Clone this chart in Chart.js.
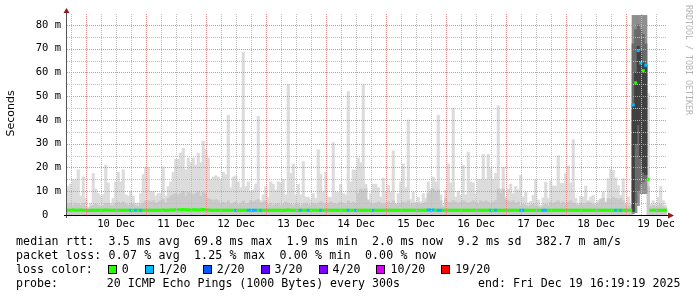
<!DOCTYPE html>
<html>
<head>
<meta charset="utf-8">
<script src="https://cdn.jsdelivr.net/npm/chart.js@4.4.1/dist/chart.umd.min.js"></script>
<style>
  html, body { margin: 0; padding: 0; background: #fff; }
  #wrap { position: relative; width: 697px; height: 297px; overflow: hidden; }
  #legend { position: absolute; left: 16px; top: 234px; font: 11.6px "DejaVu Sans Mono", monospace; line-height: 14px; white-space: pre; color: #000; }
  .wide { letter-spacing: 0.14px; }
  .sw { display: inline-block; width: 7px; height: 7px; border: 1px solid #000; vertical-align: -1px; margin-left: 1px; margin-right: 5px; }
  .item + .item { margin-left: 15px; }
  #end { position: absolute; left: 478px; top: 276px; font: 11.6px "DejaVu Sans Mono", monospace; line-height: 14px; white-space: pre; }
</style>
</head>
<body>
<div id="wrap">
  <canvas id="smoke" width="697" height="297"></canvas>
  <div id="legend"></div>
  <div id="end"></div>
</div>
<script>
// 10 days, one sample per hour, ending Fri Dec 19 16:19:19 2025
const startMs = Date.UTC(2025, 11, 9, 16, 19, 19);
const hoursShown = 240;

// top of the light smoke (slowest ping), ms
const rttMax = [
  12, 13, 15, 15, 19, 8, 16, 7, 3, 5,
  17.5, 11, 9, 8, 8.5, 21, 13.5, 5, 7, 14,
  18, 14, 19, 8.5, 8, 10, 8, 5, 5, 9,
  17, 20, 20, 10, 10, 8, 9, 9, 20, 8,
  12, 14, 18, 23.5, 23.5, 26, 28, 19, 24, 22,
  24, 21, 26, 22, 31, 27.5, 24, 15, 16, 16.5,
  16,
  15, 18, 17, 42, 11.5, 16, 16.5, 14, 11.5, 68.5,
  12, 14, 10, 10.5, 13, 41.5, 6, 8.5, 12, 7.5,
  14, 13, 10.5, 14, 13.5, 15, 8.5, 55, 17.5, 21.5,
  8.5, 13, 8.5, 22.5, 7.5, 7.5, 6.5, 9, 7, 27.5,
  17, 9.5, 18, 7.5, 7.5, 30.5, 9.5, 9.5, 13, 9,
  8.5, 52, 14, 19, 19, 24, 22, 55, 13, 6.5,
  9, 13, 13, 11.5, 7.5, 15.5, 9.5, 12.5, 9.5, 27,
  4.5, 9, 14, 21.5, 11.5, 40, 6.5, 9.5, 5.5, 7.5,
  5.5, 9, 7, 14, 11, 16, 14, 42, 8.5, 4,
  10.5, 21.5, 13.5, 45, 7.5, 10, 8.5, 21, 8.5, 26.5,
  14, 13.5, 9, 15, 15, 25.5, 15, 25.5, 19.5, 15,
  17.5, 46, 11, 20, 7.5, 11, 13, 9, 12, 10.5,
  16.7, 7.6, 9.7, 5.1, 5.7, 8.3, 14.9, 6.3, 3.9, 7.2,
  13.8, 6.9, 14.3, 12.2, 12.2, 25, 13.3, 13.2, 17.4, 20.6,
  13.5, 31.7, 7, 4.9, 7.9, 7.6, 12.2, 6.1, 7.6, 8.2,
  4.7, 6.1, 6.8, 9.7, 5.7, 15.3, 19.2, 18.8, 15.6, 12.4,
  8.3, 15.3, 4.9, 7.6, 4.9,
  null, null, null, null, null, null,
  51,
  4.5, 6, 5, 7.5, 12, 6, 4
];

// top of the denser inner smoke, ms
const rttUpper = [
  4.5, 5, 4, 5, 4.5, 4, 5, 3.5,
  3, 3.5, 4, 4.5, 4, 3.5, 4, 5,
  5, 4, 4, 5, 5.5, 5, 5.5, 4.5, 4, 5, 4.5, 4, 3.5, 4.5, 5, 6,
  6, 5.5, 6, 5, 5.5, 6, 6.5, 5,
  7, 8, 8.5, 9, 8.5,
  9, 10, 8, 9.5, 9, 8.5, 9, 10, 8, 9.5, 9,
  7, 6.5, 6, 6.5, 6,
  5, 5.5, 5, 6, 4.5, 5, 5.5, 4.5, 5, 6, 4.5, 5,
  6, 5.5, 6, 6.5, 5, 5.5, 6,
  4.5, 5, 4, 4.5, 5, 4, 4.5, 5.5, 5, 4.5, 4, 4.5, 5, 4, 4.5, 5, 4.5, 4, 5, 4.5,
  5, 5.5, 5, 4.5, 5, 5.5, 5, 4.5, 5, 5.5, 5, 4.5, 6, 5, 5.5, 5,
  9, 11, 10.5, 11, 6,
  5, 4.5, 5, 5.5, 5, 4.5, 5, 5.5, 5, 6, 4.5, 5, 5, 5.5, 5, 6, 4.5, 5, 4.5, 5, 4.5, 5, 5.5,
  9, 10, 11, 10, 10.5, 6, 3.5, 7,
  5.5, 5, 6, 5.5, 5, 5.5, 6, 5.5, 5, 5.5, 6, 5.5, 5, 6, 5.5, 6, 5.5, 5, 5.5, 6,
  11, 9, 11, 6.5,
  6, 5.5, 6, 5, 5.5,
  4, 4.5, 4, 3.5, 4, 4.5, 4, 3.5, 3, 4, 4.5, 4,
  5.5, 5, 5.5, 6,
  5, 5.5, 5, 5.5, 6, 5, 4.5, 4, 5, 4.5, 5, 5.5, 5, 4.5, 4, 5,
  6.5, 7, 5, 7, 6.5, 7.5, 7, 6.5, 7, 6, 4,
  4, 3.5,
  null, null, null, null, null, null,
  12,
  3.5, 4, 3.5, 4, 4.5, 3.5, 3
];

// median rtt, ms
const rttMedian = [
  2.0, 2.0, 2.1, 2.0, 2.0, 2.1, 2.0, 2.0, 1.9, 2.0, 2.0, 2.0, 2.0, 2.0, 2.0, 2.1, 2.0, 2.0, 2.0, 2.0,
  2.0, 2.0, 2.0, 2.0, 2.0, 2.0, 2.0, 2.0, 2.0, 2.0, 2.0, 2.0, 2.0, 2.0, 2.0, 2.0, 2.0, 2.0, 2.1, 2.0,
  2.0, 2.1, 2.1, 2.2, 2.2, 2.2, 2.3, 2.2, 2.2, 2.1, 2.2, 2.2, 2.1, 2.2, 2.3, 2.2, 2.1, 2.0, 2.0, 2.0,
  2.0, 2.0, 2.0, 2.0, 2.0, 2.0, 2.0, 2.0, 2.0, 2.0, 2.0, 2.0, 2.0, 2.0, 2.0, 2.0, 2.0, 2.0, 2.0, 2.0,
  2.0, 2.0, 2.0, 2.0, 2.0, 2.0, 2.0, 2.0, 2.1, 2.0, 2.0, 2.0, 2.0, 2.0, 2.0, 2.0, 2.0, 2.0, 2.0, 2.0,
  2.0, 2.0, 2.0, 2.0, 2.0, 2.0, 2.0, 2.0, 2.0, 2.0, 2.0, 2.0, 2.0, 2.0, 2.0, 2.0, 2.0, 2.0, 2.0, 2.0,
  2.0, 2.0, 2.0, 2.0, 2.0, 2.0, 2.0, 2.0, 2.0, 2.0, 2.0, 2.0, 2.0, 2.0, 2.0, 2.0, 2.0, 2.0, 2.0, 2.0,
  2.0, 2.0, 2.0, 2.0, 2.1, 2.1, 2.1, 2.0, 2.0, 2.0, 2.0, 2.0, 2.0, 2.0, 2.0, 2.0, 2.0, 2.0, 2.0, 2.0,
  2.0, 2.0, 2.0, 2.0, 2.0, 2.0, 2.0, 2.0, 2.0, 2.0, 2.0, 2.0, 2.0, 2.0, 2.0, 2.0, 2.0, 2.0, 2.0, 2.0,
  2.0, 2.0, 2.0, 2.0, 2.0, 2.0, 2.0, 2.0, 2.0, 2.0, 2.0, 2.0, 2.0, 2.0, 2.0, 2.0, 2.0, 2.0, 2.0, 2.0,
  2.0, 2.0, 2.0, 2.0, 2.0, 2.0, 2.0, 2.0, 2.0, 2.0, 2.0, 2.0, 2.0, 2.0, 2.0, 2.0, 2.0, 2.0, 2.0, 2.0,
  2.0, 2.0, 2.0, 2.0, 2.0, 2.0, 46.3, 55.6, 69.2, 64.0, 60.7, 63.0, 15.0, 2.0, 2.0, 2.0, 2.0, 2.0, 2.0, 2.0
];

// lost pings out of 20, per sample
const lossPings = [
  0, 0, 0, 0, 0, 0, 0, 0, 0, 0, 0, 0, 0, 0, 0, 0, 0, 0, 0, 0,
  0, 0, 0, 0, 0, 1, 0, 1, 0, 1, 0, 0, 0, 0, 0, 0, 0, 0, 0, 0,
  0, 0, 0, 0, 0, 0, 0, 0, 0, 0, 0, 0, 0, 0, 0, 0, 0, 0, 0, 0,
  0, 0, 0, 0, 0, 0, 0, 1, 0, 0, 0, 0, 1, 1, 1, 1, 0, 1, 0, 0,
  0, 0, 0, 0, 0, 0, 0, 0, 0, 0, 0, 0, 0, 1, 0, 0, 1, 0, 0, 0,
  0, 1, 0, 0, 0, 0, 0, 0, 0, 0, 0, 0, 1, 0, 0, 1, 0, 0, 0, 0,
  0, 0, 1, 0, 0, 0, 0, 0, 0, 0, 0, 0, 0, 0, 0, 0, 0, 0, 0, 0,
  0, 0, 0, 0, 1, 1, 1, 0, 1, 1, 0, 0, 0, 0, 0, 0, 0, 0, 0, 0,
  0, 0, 0, 0, 0, 0, 0, 0, 0, 1, 0, 1, 0, 0, 0, 0, 0, 0, 0, 0,
  0, 1, 1, 0, 0, 0, 0, 0, 0, 0, 1, 1, 0, 0, 0, 0, 0, 0, 0, 0,
  0, 0, 0, 0, 0, 0, 0, 0, 0, 0, 0, 0, 0, 0, 0, 0, 0, 0, 0, 1,
  0, 1, 0, 0, 0, 0, 1, 0, 1, 1, 0, 1, 0, 0, 0, 0, 0, 0, 0, 0
];

// the latency burst on 19 Dec: wide, dark smoke
const burstHours = [226, 227, 228, 229, 230, 231];
const burstOuterLo = [0.5, 1, 4, 9, 9, 9];
const burstOuterHi = [84, 84, 84, 84, 84, 84];
const burstMidLo = [2, 5, 10, 13, 14, 15];
const burstMidHi = [72, 78, 80, 78, 76, 72];
const burstCoreLo = [1.5, 30, 38, 24, 18, 17];
const burstCoreHi = [46.5, 60, 71, 69, 64, 63];

const lossSteps = [0, 1, 2, 3, 4, 10, 19];
const lossLabels = ['0', '1/20', '2/20', '3/20', '4/20', '10/20', '19/20'];
const lossColors = ['#26ff00', '#00b8ff', '#0059ff', '#5e00ff', '#7e00ff', '#dd00ff', '#ff0000'];

const statLines = [
  'median rtt:  3.5 ms avg  69.8 ms max  1.9 ms min  2.0 ms now  9.2 ms sd  382.7 m am/s',
  'packet loss: 0.07 % avg  1.25 % max  0.00 % min  0.00 % now'
];
const probeText = 'probe:       20 ICMP Echo Pings (1000 Bytes) every 300s';
const endText = 'end: Fri Dec 19 16:19:19 2025';

// legend below the graph
const legendEl = document.getElementById('legend');
const lossItems = lossLabels.map((l, i) =>
  `<span class="item"><span class="sw" style="background:${lossColors[i]}"></span>${l}</span>`).join('');
legendEl.innerHTML = statLines.map(s => `<span class="wide">${s}</span>`).join('\n') +
  '\nloss color:  ' + lossItems + '\n' + probeText;
document.getElementById('end').textContent = endText;

// axis ticks: every 6 h, midnight major, day label at noon
const hourMs = 3600 * 1000;
const firstTickMs = Date.UTC(2025, 11, 9, 18, 0, 0);
const firstTick = (firstTickMs - startMs) / hourMs;
const xTicks = [];
for (let t = firstTick; t < hoursShown; t += 6) xTicks.push(t);
const tickDate = v => new Date(firstTickMs + Math.round((v - firstTick) / 6) * 6 * hourMs);
const yTicks = [0, 5, 10, 15, 20, 25, 30, 35, 40, 45, 50, 55, 60, 65, 70, 75, 80];

const majorGrid = 'rgb(228, 140, 140)';
const minorGrid = 'rgb(190, 190, 190)';
const axisFont = { family: 'DejaVu Sans Mono', size: 10.5 };

const pts = arr => arr.map((v, i) => ({ x: i + 0.5, y: v }));
const burstPts = (lo, hi) => burstHours.map((h, k) => ({ x: h + 0.5, y: [lo[k], hi[k]] }));
const barBase = { type: 'bar', grouped: false, barPercentage: 1, categoryPercentage: 1, borderWidth: 0 };

// rrdtool draws its dotted grid over the graph
const dottedGrid = {
  id: 'dottedGrid',
  afterDatasetsDraw(chart) {
    const { ctx, chartArea: a, scales: { x, y } } = chart;
    ctx.save();
    ctx.lineWidth = 1;
    ctx.setLineDash([1, 1]);
    xTicks.forEach(v => {
      const px = Math.round(x.getPixelForValue(v)) + 0.5;
      ctx.strokeStyle = tickDate(v).getUTCHours() === 0 ? majorGrid : minorGrid;
      ctx.beginPath();
      ctx.moveTo(px, a.bottom);
      ctx.lineTo(px, a.top);
      ctx.stroke();
    });
    yTicks.filter(v => v > 0).forEach(v => {
      const py = Math.round(y.getPixelForValue(v)) + 0.5;
      ctx.strokeStyle = v % 10 === 0 ? majorGrid : minorGrid;
      ctx.beginPath();
      ctx.moveTo(a.left, py);
      ctx.lineTo(a.right, py);
      ctx.stroke();
    });
    ctx.restore();
  }
};

const decor = {
  id: 'decor',
  afterDraw(chart) {
    const { ctx, chartArea: a } = chart;
    ctx.save();
    ctx.lineWidth = 1;
    ctx.strokeStyle = '#555';
    ctx.beginPath();
    ctx.moveTo(a.left - 0.5, a.bottom + 3);
    ctx.lineTo(a.left - 0.5, a.top - 3);
    ctx.stroke();
    ctx.strokeStyle = '#000';
    ctx.beginPath();
    ctx.moveTo(a.left - 3, a.bottom + 0.5);
    ctx.lineTo(a.right + 3, a.bottom + 0.5);
    ctx.stroke();
    ctx.fillStyle = '#8b1c1c';
    ctx.beginPath();
    ctx.moveTo(a.left - 3.5, a.top);
    ctx.lineTo(a.left + 2.5, a.top);
    ctx.lineTo(a.left - 0.5, a.top - 5);
    ctx.closePath();
    ctx.fill();
    ctx.beginPath();
    ctx.moveTo(a.right + 1, a.bottom - 2.5);
    ctx.lineTo(a.right + 1, a.bottom + 3.5);
    ctx.lineTo(a.right + 7, a.bottom + 0.5);
    ctx.closePath();
    ctx.fill();

    ctx.fillStyle = '#000';
    ctx.font = '11px "DejaVu Sans"';
    ctx.textAlign = 'center';
    ctx.textBaseline = 'middle';
    ctx.translate(11, 113.5);
    ctx.rotate(-Math.PI / 2);
    ctx.fillText('Seconds', 0, 0);
    ctx.restore();

    ctx.save();
    ctx.fillStyle = '#b4b4b4';
    ctx.font = '8.3px "DejaVu Sans Mono"';
    ctx.textAlign = 'left';
    ctx.textBaseline = 'middle';
    ctx.translate(688, 5);
    ctx.rotate(Math.PI / 2);
    ctx.fillText('RRDTOOL / TOBI OETIKER', 0, 0);
    ctx.restore();
  }
};

new Chart(document.getElementById('smoke'), {
  type: 'bar',
  data: {
    datasets: [
      {
        type: 'line', data: pts(rttMedian), showLine: false, order: 0,
        pointStyle: 'rect', pointRadius: 2.15, pointBorderWidth: 0, pointHoverRadius: 0,
        pointBackgroundColor: c => lossColors[lossSteps.indexOf(lossPings[c.dataIndex])]
      },
      { ...barBase, data: burstPts(burstCoreLo, burstCoreHi), backgroundColor: '#404040', order: 1 },
      { ...barBase, data: burstPts(burstMidLo, burstMidHi), backgroundColor: '#6a6a6a', order: 2 },
      { ...barBase, data: burstPts(burstOuterLo, burstOuterHi), backgroundColor: '#8e8e8e', order: 3 },
      { ...barBase, data: pts(rttUpper), backgroundColor: '#c9c9c9', order: 4 },
      { ...barBase, data: pts(rttMax), backgroundColor: '#dcdcdc', order: 5 }
    ]
  },
  options: {
    responsive: false,
    animation: false,
    devicePixelRatio: 1,
    events: [],
    layout: { padding: { left: 0, top: 13, right: 30, bottom: 62 } },
    plugins: { legend: { display: false }, tooltip: { enabled: false } },
    scales: {
      x: {
        type: 'linear', min: 0, max: hoursShown, offset: false,
        afterBuildTicks: s => { s.ticks = xTicks.map(v => ({ value: v })); },
        afterFit: s => { s.height = 20; },
        grid: { display: false, offset: false, drawTicks: false },
        border: { display: false },
        ticks: {
          autoSkip: false, maxRotation: 0, padding: 3, color: '#000', font: axisFont,
          callback: v => {
            const d = tickDate(v);
            return d.getUTCHours() === 12 ? d.getUTCDate() + ' Dec' : '';
          }
        }
      },
      y: {
        min: 0, max: 85,
        afterBuildTicks: s => { s.ticks = yTicks.map(v => ({ value: v })); },
        afterFit: s => { s.width = 67; },
        grid: { display: false, drawTicks: false },
        border: { display: false },
        ticks: {
          padding: 6, color: '#000', font: axisFont,
          callback: v => v % 10 === 0 ? (v === 0 ? '0  ' : v + ' m') : ''
        }
      }
    }
  },
  plugins: [dottedGrid, decor]
});
</script>
</body>
</html>
